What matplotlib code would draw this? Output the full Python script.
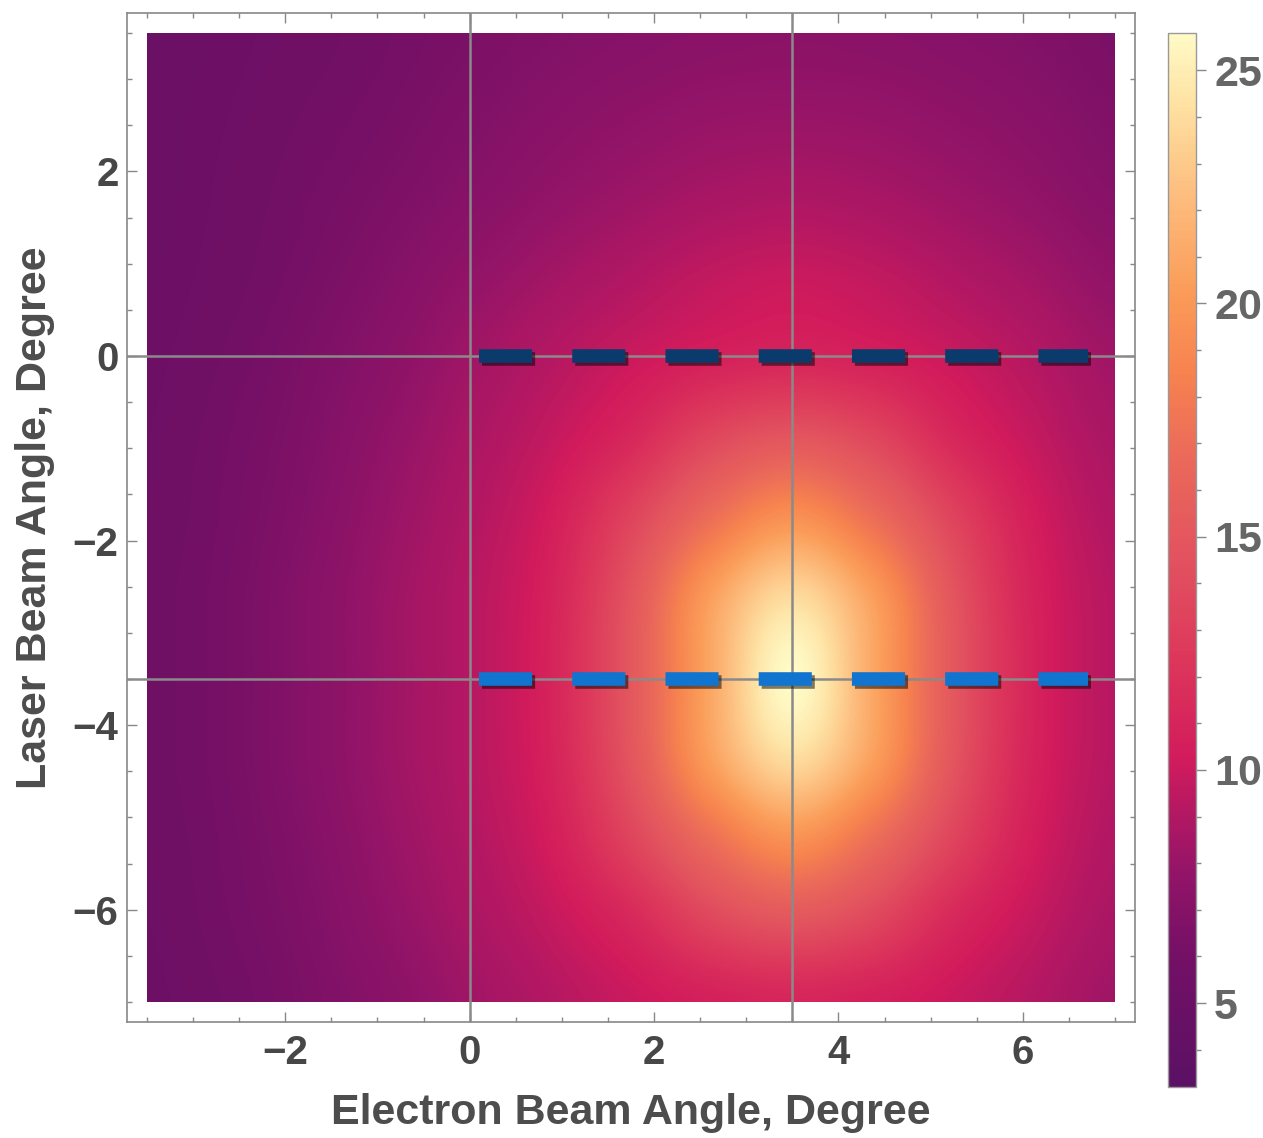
import matplotlib
matplotlib.use('Agg')
import matplotlib.pyplot as plt
import matplotlib.patheffects as pe
import numpy as np
from matplotlib.colors import LinearSegmentedColormap
from matplotlib.patches import Rectangle
from matplotlib.ticker import MultipleLocator

plt.rcParams['font.family'] = ['Liberation Sans', 'DejaVu Sans']
plt.rcParams['font.weight'] = 'bold'

##データ
#プロット範囲
x_min, x_max = -3.5, 7.0
y_min, y_max = -7.0, 3.5

#強度マップ（上の行が y=3.5, 0.875刻み。列は x=-3.5 から 0.875刻み）
intensity = np.array([
    [5.0, 5.3, 5.6, 6.0, 6.4, 6.8, 7.1, 7.3, 7.4, 7.3, 7.1, 6.8, 6.4],
    [5.1, 5.4, 5.8, 6.2, 6.7, 7.2, 7.6, 7.9, 8.0, 7.9, 7.6, 7.2, 6.7],
    [5.1, 5.5, 6.0, 6.5, 7.1, 7.7, 8.2, 8.6, 8.8, 8.6, 8.2, 7.7, 7.1],
    [5.2, 5.6, 6.2, 6.9, 7.7, 8.4, 9.0, 9.6, 9.9, 9.6, 9.0, 8.4, 7.7],
    [5.3, 5.8, 6.5, 7.3, 8.3, 9.1, 9.9, 10.6, 11.0, 10.6, 9.9, 9.1, 8.3],
    [5.4, 6.0, 6.7, 7.7, 8.7, 9.7, 11.2, 13.6, 14.8, 13.6, 11.2, 9.7, 8.7],
    [5.5, 6.1, 6.9, 8.0, 9.0, 10.4, 13.4, 17.0, 19.5, 17.0, 13.4, 10.4, 9.0],
    [5.6, 6.2, 7.1, 8.2, 9.2, 10.8, 14.8, 20.5, 24.0, 20.5, 14.8, 10.8, 9.2],
    [5.6, 6.2, 7.1, 8.2, 9.2, 10.9, 15.0, 21.0, 25.8, 21.0, 15.0, 10.9, 9.2],
    [5.6, 6.2, 7.1, 8.2, 9.2, 10.8, 14.8, 20.5, 24.0, 20.5, 14.8, 10.8, 9.2],
    [5.5, 6.1, 6.9, 8.0, 9.0, 10.4, 13.4, 17.0, 19.5, 17.0, 13.4, 10.4, 9.0],
    [5.4, 6.0, 6.7, 7.7, 8.7, 9.7, 11.2, 13.6, 14.8, 13.6, 11.2, 9.7, 8.7],
    [5.3, 5.8, 6.5, 7.3, 8.3, 9.1, 9.9, 10.6, 11.0, 10.6, 9.9, 9.1, 8.3],
])
cell = 0.875

#カラーバーの範囲
c_min, c_max = 3.2, 25.8
cbar_ticks = [5, 10, 15, 20, 25]

#グリッド線
ref_x = [0.0, 3.5]
ref_y = [0.0, -3.5]

#破線（スキャンライン）
scan_x = [0.1, 6.71]
scan_y = [0.0, -3.5]
scan_colors = ['#0b3b6c', '#1174cf']

#カラーマップ
cmap_pos = [0.0, 0.12, 0.2, 0.26, 0.31, 0.4, 0.5, 0.6, 0.68, 0.76, 0.86, 0.94, 1.0]
cmap_col = ['#5b1164', '#731066', '#921468', '#b41863', '#d21b5c', '#dc355b',
            '#e2525f', '#eb6a5a', '#f7834f', '#fb9d5a', '#fdc283', '#fee4a6', '#fffac6']
cmap = LinearSegmentedColormap.from_list('sunset', list(zip(cmap_pos, cmap_col)))

##描画
fig = plt.figure(figsize=(12.63, 11.38), dpi=100)
W, H = 1263, 1138
ax = fig.add_axes([127 / W, 1 - 1022 / H, 1008 / W, 1009 / H])

h = cell / 2
im = ax.imshow(intensity, extent=[x_min - h, x_max + h, y_min - h, y_max + h],
               origin='upper', cmap=cmap, vmin=c_min, vmax=c_max,
               interpolation='catrom', interpolation_stage='data',
               aspect='auto', zorder=1)
clip = Rectangle((x_min, y_min), x_max - x_min, y_max - y_min,
                 transform=ax.transData, facecolor='none', edgecolor='none')
im.set_clip_path(clip)

for v in ref_x:
    ax.axvline(v, color='#8a8a8a', lw=1.8, zorder=2)
for v in ref_y:
    ax.axhline(v, color='#8a8a8a', lw=1.8, zorder=2)

shadow = [pe.SimpleLineShadow(offset=(2, -2), shadow_color='black', alpha=0.5), pe.Normal()]
for yv, c in zip(scan_y, scan_colors):
    ax.plot(scan_x, [yv, yv], color=c, lw=9.8, dashes=(3.9, 2.95),
            dash_capstyle='butt', path_effects=shadow, zorder=3)

ax.set_xlim(-3.717, 7.217)
ax.set_ylim(-7.217, 3.717)

ax.xaxis.set_major_locator(MultipleLocator(2))
ax.xaxis.set_minor_locator(MultipleLocator(0.5))
ax.yaxis.set_major_locator(MultipleLocator(2))
ax.yaxis.set_minor_locator(MultipleLocator(0.5))
ax.tick_params(which='both', direction='in', top=True, right=True, color='#888888', width=1.0)
ax.tick_params(which='major', length=7, labelsize=29, labelcolor='#474747')
ax.tick_params(which='minor', length=3.5)
ax.tick_params(axis='x', pad=9)
ax.tick_params(axis='y', pad=6)
for s in ax.spines.values():
    s.set_color('#888888')
    s.set_linewidth(1.2)

ax.set_xlabel('Electron Beam Angle, Degree', fontsize=31, color='#4d4d4d', fontweight='bold')
ax.set_ylabel('Laser Beam Angle, Degree', fontsize=31, color='#4d4d4d', fontweight='bold')
ax.xaxis.set_label_coords(0.5, -0.07)
ax.yaxis.set_label_coords(-0.071, 0.5)

#カラーバー
cax = fig.add_axes([1168 / W, 1 - 1087 / H, 28 / W, 1054 / H])
cb = fig.colorbar(im, cax=cax)
cb.set_ticks(cbar_ticks)
cb.ax.yaxis.set_minor_locator(MultipleLocator(1))
cb.outline.set_edgecolor('#999999')
cb.outline.set_linewidth(1.0)
cax.tick_params(which='both', direction='out', color='#888888', width=1.0)
cax.tick_params(which='major', length=7, labelsize=31, labelcolor='#666666', pad=6)
cax.tick_params(which='minor', length=3.5)

fig.savefig('out.png', dpi=100)
